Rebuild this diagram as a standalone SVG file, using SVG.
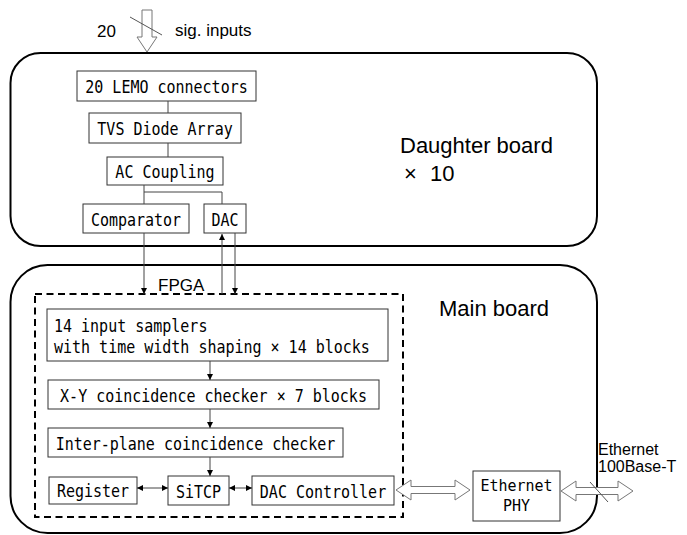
<svg xmlns="http://www.w3.org/2000/svg" width="687" height="535" viewBox="0 0 687 535">
<style>
.board{fill:none;stroke:#000;stroke-width:2}
.box{fill:#fff;stroke:#333;stroke-width:1}
.fpga{fill:none;stroke:#000;stroke-width:2;stroke-dasharray:7,4.5}
.mono{font-family:"DejaVu Sans Mono","Liberation Mono",monospace;font-size:15px;fill:#000}
.mid{text-anchor:middle}
.sans{font-family:"Liberation Sans",Arial,sans-serif;fill:#000}
.line{fill:none;stroke:#444;stroke-width:1}
.hollow{fill:#fff;stroke:#777;stroke-width:1}
</style>
<defs>
<marker id="ah" viewBox="0 0 6 6" markerWidth="6" markerHeight="6" refX="6" refY="3" orient="auto-start-reverse" markerUnits="userSpaceOnUse">
<path d="M0,0 L6,3 L0,6 z" fill="#000"/>
</marker>
</defs>
<rect x="0" y="0" width="687" height="535" fill="#fff"/>

<g id="daughter-board">
<rect class="board" x="10.5" y="53" width="586.5" height="193" rx="30"/>
<text class="sans" x="400" y="153" font-size="22">Daughter board</text>
<text class="sans" x="404" y="181" font-size="22">×<tspan x="430">10</tspan></text>
</g>

<g id="main-board">
<rect class="board" x="10.5" y="265" width="586.5" height="268" rx="37"/>
<text class="sans" x="439" y="316" font-size="22">Main board</text>
</g>

<g id="fpga">
<rect class="fpga" x="35" y="294" width="368" height="223"/>
<text class="sans" x="158" y="291" font-size="17">FPGA</text>
</g>

<g id="input">
<path class="hollow" d="M142,10 L152,10 L152,37 L157,37 L147,52 L137,37 L142,37 Z"/>
<line x1="130" y1="17" x2="162" y2="35" stroke="#555" stroke-width="1"/>
<text class="sans" x="97" y="37" font-size="17">20</text>
<text class="sans" x="175" y="36" font-size="17">sig. inputs</text>
</g>

<g id="lemo">
<rect class="box" x="77" y="71" width="179" height="30"/>
<text class="mono mid" transform="translate(166.5,93) scale(1,1.22)">20 LEMO connectors</text>
</g>
<g id="tvs">
<rect class="box" x="89" y="113" width="152" height="30"/>
<text class="mono mid" transform="translate(165,135) scale(1,1.22)">TVS Diode Array</text>
</g>
<g id="ac">
<rect class="box" x="107" y="157" width="116" height="28"/>
<text class="mono mid" transform="translate(165,178) scale(1,1.22)">AC Coupling</text>
</g>
<g id="comparator">
<rect class="box" x="83" y="204" width="106" height="29"/>
<text class="mono mid" transform="translate(136,226) scale(1,1.22)">Comparator</text>
</g>
<g id="dac">
<rect class="box" x="204" y="204" width="42" height="29"/>
<text class="mono mid" transform="translate(225,226) scale(1,1.22)">DAC</text>
</g>

<g id="samplers">
<rect class="box" x="47" y="309" width="341" height="52"/>
<text class="mono" transform="translate(54,332) scale(1,1.22)">14 input samplers</text>
<text class="mono" transform="translate(54,353) scale(1,1.22)">with time width shaping × 14 blocks</text>
</g>
<g id="xy">
<rect class="box" x="48" y="380" width="331" height="29"/>
<text class="mono mid" transform="translate(213.5,402) scale(1,1.22)">X-Y coincidence checker × 7 blocks</text>
</g>
<g id="interplane">
<rect class="box" x="48" y="428" width="295" height="29"/>
<text class="mono mid" transform="translate(195.5,450) scale(1,1.22)">Inter-plane coincidence checker</text>
</g>
<g id="register">
<rect class="box" x="49" y="477" width="88" height="27"/>
<text class="mono mid" transform="translate(93,497) scale(1,1.22)">Register</text>
</g>
<g id="sitcp">
<rect class="box" x="168" y="476" width="61" height="29"/>
<text class="mono mid" transform="translate(198.5,498) scale(1,1.22)">SiTCP</text>
</g>
<g id="dac-controller">
<rect class="box" x="252" y="476" width="142" height="29"/>
<text class="mono mid" transform="translate(323,498) scale(1,1.22)">DAC Controller</text>
</g>
<g id="ethernet-phy">
<rect class="box" x="473" y="471" width="87" height="50"/>
<text class="mono mid" transform="translate(516.5,491) scale(1,1.1)">Ethernet</text>
<text class="mono mid" transform="translate(516.5,511) scale(1,1.1)">PHY</text>
</g>
<g id="ethernet-label">
<text class="sans" x="598" y="455" font-size="16">Ethernet</text>
<text class="sans" x="598" y="472" font-size="16">100Base-T</text>
</g>

<g id="connectors">
<line class="line" x1="168" y1="101" x2="168" y2="113"/>
<line class="line" x1="168" y1="143" x2="168" y2="157"/>
<line class="line" x1="144" y1="185" x2="144" y2="204"/>
<polyline class="line" points="144,192 222,192 222,204"/>
<line class="line" x1="144" y1="233" x2="144" y2="294" marker-end="url(#ah)"/>
<line class="line" x1="222" y1="294" x2="222" y2="234" marker-end="url(#ah)"/>
<line class="line" x1="235" y1="233" x2="235" y2="294" marker-end="url(#ah)"/>
<line class="line" x1="210" y1="361" x2="210" y2="380" marker-end="url(#ah)"/>
<line class="line" x1="210" y1="409" x2="210" y2="428" marker-end="url(#ah)"/>
<line class="line" x1="210" y1="457" x2="210" y2="476" marker-end="url(#ah)"/>
<line class="line" x1="137" y1="488" x2="168" y2="488" marker-start="url(#ah)" marker-end="url(#ah)"/>
<line class="line" x1="229" y1="488" x2="252" y2="488" marker-start="url(#ah)" marker-end="url(#ah)"/>
<path class="hollow" d="M396,490 L411,480 L411,486.5 L455,486.5 L455,480 L470,490 L455,500 L455,493.5 L411,493.5 L411,500 Z"/>
<path class="hollow" d="M561,491 L576,481 L576,487.5 L618,487.5 L618,481 L633,491 L618,501 L618,494.5 L576,494.5 L576,501 Z"/>
<line x1="590" y1="482" x2="608" y2="502" stroke="#555" stroke-width="1"/>
</g>
</svg>
